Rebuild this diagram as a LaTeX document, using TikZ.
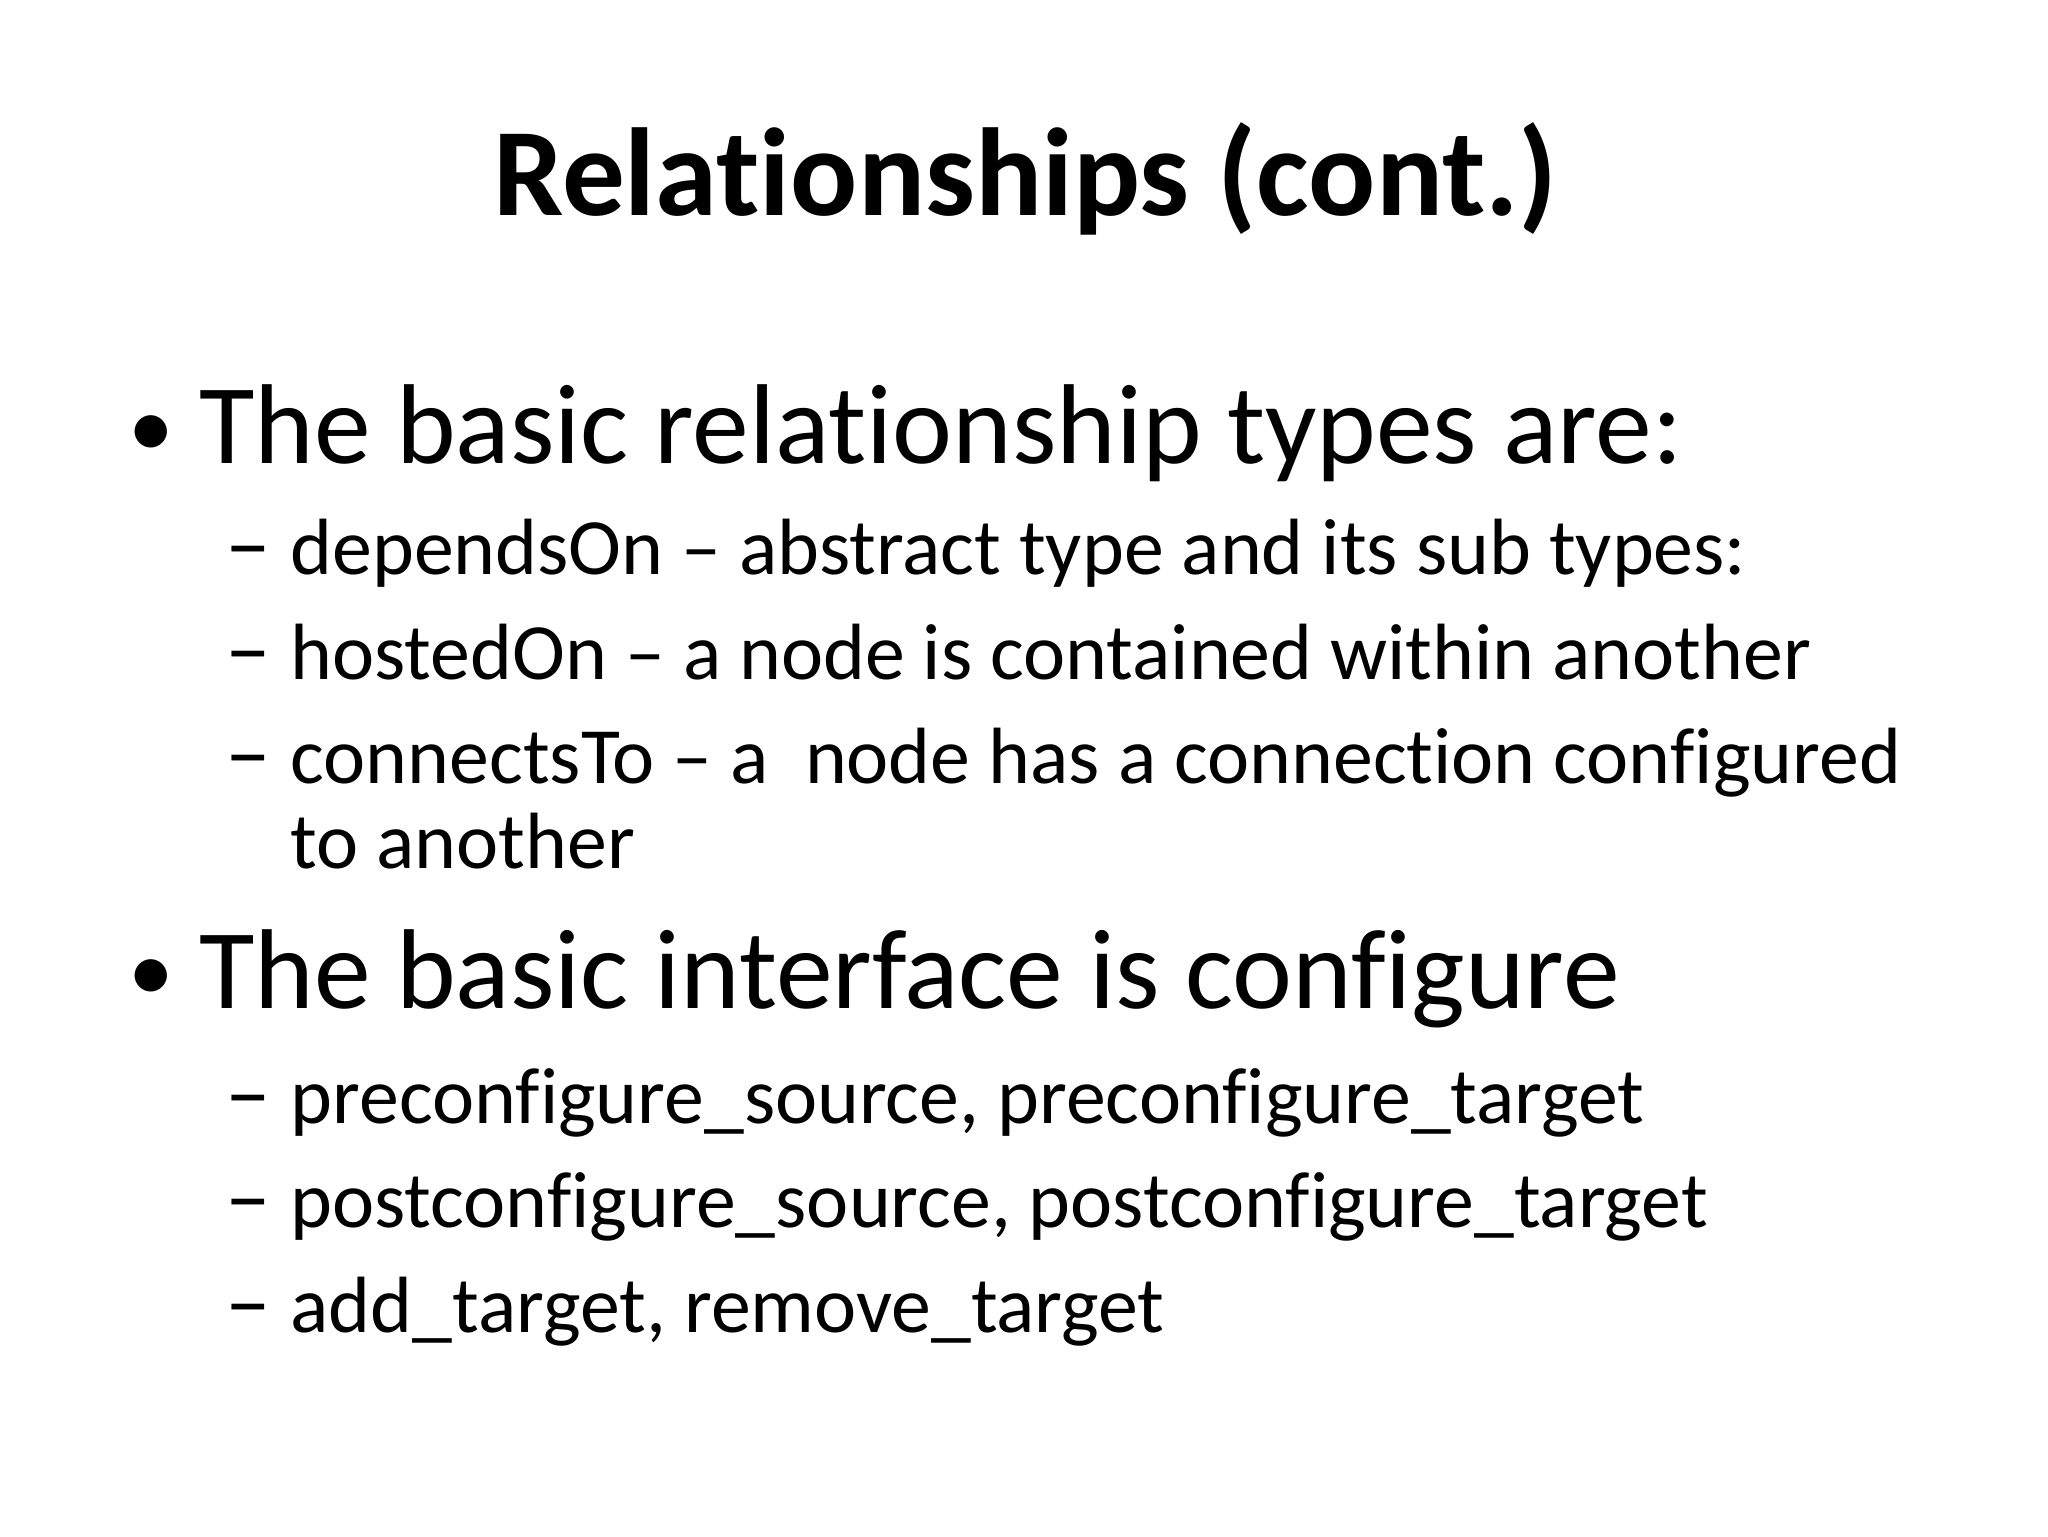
\documentclass[tikz,border=0pt]{standalone}
\usepackage{fontspec}
\setmainfont[Ligatures=NoCommon]{Carlito}
\begin{document}
\begin{tikzpicture}[x=0.3715pt,y=-0.3715pt,
  ttl/.style={font=\fontsize{35.6}{40}\selectfont\bfseries,anchor=base,inner sep=0},
  lvl/.style={font=\fontsize{32.3}{36}\selectfont,anchor=base west,inner sep=0},
  bul/.style={font=\fontsize{26}{30}\selectfont,anchor=base west,inner sep=0},
  dsh/.style={font=\fontsize{26}{30}\selectfont,anchor=base west,inner sep=0},
  sub/.style={font=\fontsize{22.7}{28}\selectfont,anchor=base west,inner sep=0}]
\useasboundingbox (0,0) rectangle (1568,1176);
\node[ttl] (t) at (785,165) {Relationships (cont.)};
\node[bul] (b1m) at (98,350) {•};
\node[lvl] (b1) at (152,355) {The basic relationship types are:};
\node[dsh] (d1) at (172,440) {–};
\node[sub] (s1) at (222,440) {dependsOn – abstract type and its sub types:};
\node[dsh] (d2) at (172,520) {–};
\node[sub] (s2) at (222,520) {hostedOn – a node is contained within another};
\node[dsh] (d3) at (172,600) {–};
\node[sub] (s3) at (222,600) {connectsTo – a\ \ node has a connection configured};
\node[sub] (s3b) at (222,665) {to another};
\node[bul] (b2m) at (98,767) {•};
\node[lvl] (b2) at (152,772) {The basic interface is configure};
\node[dsh] (d4) at (172,860) {–};
\node[sub] (s4) at (222,860) {preconfigure\_source, preconfigure\_target};
\node[dsh] (d5) at (172,940) {–};
\node[sub] (s5) at (222,940) {postconfigure\_source, postconfigure\_target};
\node[dsh] (d6) at (172,1020) {–};
\node[sub] (s6) at (222,1020) {add\_target, remove\_target};
\end{tikzpicture}
\end{document}
